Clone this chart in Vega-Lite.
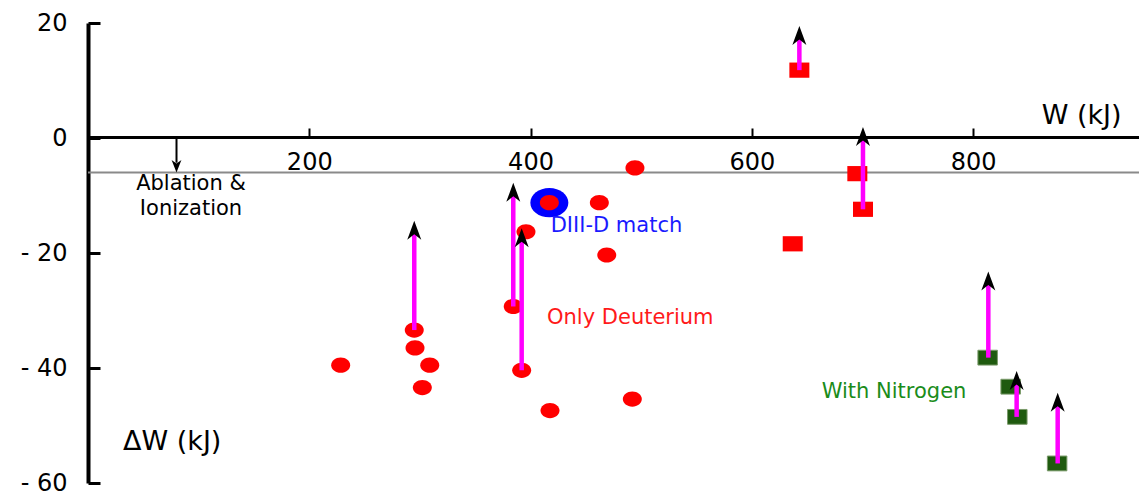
{
  "$schema": "https://vega.github.io/schema/vega-lite/v6.json",
  "width": 1051,
  "height": 460,
  "autosize": {"type": "none"},
  "padding": {"left": 88, "top": 23, "right": 0, "bottom": 11},
  "background": "white",
  "config": {"view": {"stroke": null}},
  "datasets": {
    "deut": [
      {"W": 494.4, "dW": -5.2}, {"W": 417, "dW": -11.25}, {"W": 462.2, "dW": -11.25},
      {"W": 395.9, "dW": -16.3}, {"W": 468.9, "dW": -20.35}, {"W": 384.4, "dW": -29.3},
      {"W": 294.9, "dW": -33.4}, {"W": 295.6, "dW": -36.5}, {"W": 228.4, "dW": -39.5},
      {"W": 308.9, "dW": -39.5}, {"W": 302.2, "dW": -43.4}, {"W": 392.0, "dW": -40.4},
      {"W": 417.6, "dW": -47.4}, {"W": 492.0, "dW": -45.4}
    ],
    "match": [{"W": 417, "dW": -11.25}],
    "redsq": [
      {"W": 643.0, "dW": 11.8}, {"W": 695.4, "dW": -6.2},
      {"W": 700.5, "dW": -12.4}, {"W": 637.0, "dW": -18.4}
    ],
    "nitro": [
      {"W": 813.2, "dW": -38.2}, {"W": 834.0, "dW": -43.25},
      {"W": 840.0, "dW": -48.5}, {"W": 876.0, "dW": -56.6}
    ],
    "arrows": [
      {"W": 643.0, "dW": 11.8, "dW2": 17.5},
      {"W": 700.5, "dW": -12.4, "dW2": -0.1},
      {"W": 384.4, "dW": -29.3, "dW2": -9.8},
      {"W": 294.9, "dW": -33.4, "dW2": -16.4},
      {"W": 392.0, "dW": -40.4, "dW2": -17.7},
      {"W": 813.8, "dW": -38.2, "dW2": -25.2},
      {"W": 839.4, "dW": -48.5, "dW2": -42.5},
      {"W": 876.5, "dW": -56.6, "dW2": -46.3}
    ],
    "heads": [
      {"W": 643.0, "dW": 19.5}, {"W": 700.5, "dW": 1.9}, {"W": 384.4, "dW": -7.8},
      {"W": 294.9, "dW": -14.4}, {"W": 392.0, "dW": -15.7}, {"W": 813.8, "dW": -23.2},
      {"W": 839.4, "dW": -40.5}, {"W": 876.5, "dW": -44.3}
    ],
    "ablation": [{"W": 0, "W2": 950, "dW": -6}],
    "ablArrow": [{"W": 80, "dW": 0, "dW2": -4.3}],
    "ablHead": [{"W": 80, "dW": -6}],
    "notes": [
      {"W": 418.2, "dW": -15.3, "text": "DIII-D match", "grp": "match"},
      {"W": 414.9, "dW": -31.25, "text": "Only Deuterium", "grp": "deut"},
      {"W": 663.2, "dW": -44.1, "text": "With Nitrogen", "grp": "nitro"}
    ],
    "ablText": [
      {"W": 93.1, "dW": -8.0, "text": "Ablation &"},
      {"W": 93.1, "dW": -12.35, "text": "Ionization"}
    ],
    "titles": [
      {"W": 862, "dW": 3.83, "text": "W (kJ)"},
      {"W": 31.6, "dW": -52.8, "text": "ΔW (kJ)"}
    ]
  },
  "encoding": {
    "x": {
      "field": "W", "type": "quantitative", "title": null,
      "scale": {"domain": [0, 950], "nice": false, "zero": false},
      "axis": {
        "orient": "bottom", "offset": -346, "values": [200, 400, 600, 800],
        "grid": false, "domainColor": "black", "domainWidth": 3,
        "tickColor": "black", "tickWidth": 2, "tickSize": -9,
        "labelFont": "DejaVu Sans", "labelFontSize": 24, "labelColor": "black",
        "labelPadding": 22, "labelBaseline": "top", "zindex": 0
      }
    },
    "y": {
      "field": "dW", "type": "quantitative", "title": null,
      "scale": {"domain": [-60, 20], "nice": false, "zero": false},
      "axis": {
        "orient": "left", "values": [20, 0, -20, -40, -60],
        "labelExpr": "datum.value < 0 ? '- ' + abs(datum.value) : datum.label",
        "grid": false, "domainColor": "black", "domainWidth": 4,
        "tickColor": "black", "tickWidth": 3, "tickSize": -12,
        "labelFont": "DejaVu Sans", "labelFontSize": 24, "labelColor": "black",
        "labelPadding": 33, "zindex": 0
      }
    }
  },
  "layer": [
    {
      "data": {"name": "ablation"},
      "mark": {"type": "rule", "color": "#8a8a8a", "strokeWidth": 2},
      "encoding": {"x2": {"field": "W2"}}
    },
    {
      "data": {"name": "ablArrow"},
      "mark": {"type": "rule", "color": "black", "strokeWidth": 2},
      "encoding": {"y2": {"field": "dW2"}}
    },
    {
      "data": {"name": "ablHead"},
      "mark": {"type": "point", "shape": "M0,0L-0.7,-1.8L0,-1.3L0.7,-1.8Z", "size": 196, "filled": true, "color": "black", "opacity": 1, "strokeWidth": 0}
    },
    {
      "data": {"name": "match"},
      "mark": {"type": "point", "shape": "M-1,0A1,0.77,0,1,1,1,0A1,0.77,0,1,1,-1,0Z", "size": 1444, "filled": true, "color": "#0000ff", "opacity": 1, "strokeWidth": 0}
    },
    {
      "data": {"name": "deut"},
      "mark": {"type": "point", "shape": "M-1,0A1,0.8,0,1,1,1,0A1,0.8,0,1,1,-1,0Z", "size": 361, "filled": true, "color": "#ff0000", "opacity": 1, "strokeWidth": 0}
    },
    {
      "data": {"name": "redsq"},
      "mark": {"type": "point", "shape": "M-1,-0.76H1V0.76H-1Z", "size": 400, "filled": true, "color": "#ff0000", "opacity": 1, "strokeWidth": 0}
    },
    {
      "data": {"name": "nitro"},
      "mark": {"type": "point", "shape": "M-1,-0.76H1V0.76H-1Z", "size": 380, "filled": true, "fill": "#1f5a0f", "stroke": "#7a9a6a", "strokeWidth": 1, "opacity": 1}
    },
    {
      "data": {"name": "arrows"},
      "mark": {"type": "rule", "color": "#ff00ff", "strokeWidth": 4.5},
      "encoding": {"y2": {"field": "dW2"}}
    },
    {
      "data": {"name": "heads"},
      "mark": {"type": "point", "shape": "M0,0L0.7,1.9L0,1.35L-0.7,1.9Z", "size": 400, "filled": true, "color": "black", "opacity": 1, "strokeWidth": 0}
    },
    {
      "data": {"name": "notes"},
      "mark": {"type": "text", "align": "left", "baseline": "middle", "font": "DejaVu Sans", "fontSize": 21},
      "encoding": {
        "text": {"field": "text"},
        "color": {"field": "grp", "type": "nominal", "legend": null,
          "scale": {"domain": ["match", "deut", "nitro"], "range": ["#1a1aff", "#ff1a1a", "#1a8c1a"]}}
      }
    },
    {
      "data": {"name": "ablText"},
      "mark": {"type": "text", "align": "center", "baseline": "middle", "font": "DejaVu Sans", "fontSize": 21, "color": "black"},
      "encoding": {"text": {"field": "text"}}
    },
    {
      "data": {"name": "titles"},
      "mark": {"type": "text", "align": "left", "baseline": "middle", "font": "DejaVu Sans", "fontSize": 27, "color": "black"},
      "encoding": {"text": {"field": "text"}}
    }
  ]
}
